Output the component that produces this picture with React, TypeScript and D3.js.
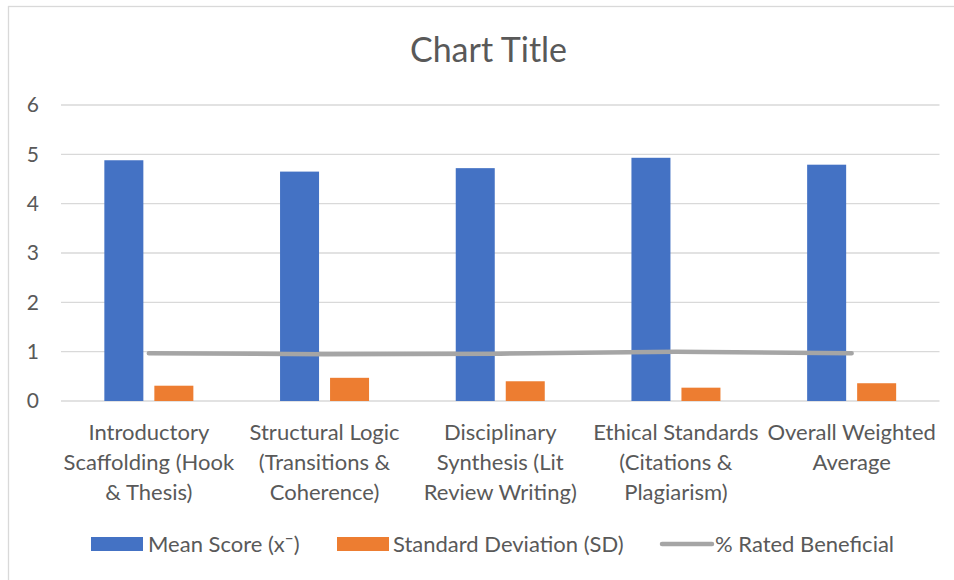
import React from "react";
import * as d3 from "d3";

// ---- data ----
const categories = [
  "Introductory Scaffolding (Hook & Thesis)",
  "Structural Logic (Transitions & Coherence)",
  "Disciplinary Synthesis (Lit Review Writing)",
  "Ethical Standards (Citations & Plagiarism)",
  "Overall Weighted Average",
];
const categoryLines = [
  ["Introductory", "Scaffolding (Hook", "& Thesis)"],
  ["Structural Logic", "(Transitions &", "Coherence)"],
  ["Disciplinary", "Synthesis (Lit", "Review Writing)"],
  ["Ethical Standards", "(Citations &", "Plagiarism)"],
  ["Overall Weighted", "Average"],
];
const meanScore = [4.88, 4.65, 4.72, 4.93, 4.79];
const stdDev = [0.31, 0.47, 0.4, 0.27, 0.36];
const ratedBeneficial = [0.97, 0.95, 0.96, 1.0, 0.97];
const yTicks = [0, 1, 2, 3, 4, 5, 6];
const seriesNames = ["Mean Score (x\u00AF)", "Standard Deviation (SD)", "% Rated Beneficial"];
const title = "Chart Title";

// ---- style ----
const FONT = "Lato, 'Liberation Sans', Arial, sans-serif";
const TEXT = "#595959";
const GRID = "#D9D9D9";
const BLUE = "#4472C4";
const ORANGE = "#ED7D31";
const GRAY = "#A5A5A5";

export default function App() {
  const W = 954;
  const H = 580;
  const plotLeft = 61;
  const plotRight = 939.5;
  const y = d3.scaleLinear().domain([0, 6]).range([401, 105]);
  const x0 = d3.scaleBand<string>().domain(categories).range([plotLeft, plotRight]);
  const bw = x0.bandwidth();
  const barW = bw * 0.222;
  const gap = bw * 0.0626;
  const center = (c: string) => (x0(c) as number) + bw / 2;

  const linePath = d3
    .line<number>()
    .x((_, i) => center(categories[i]))
    .y((d) => y(d))(ratedBeneficial) as string;

  const legendLayout = [
    { sx: 91, tx: 148 },
    { sx: 337, tx: 393 },
    { sx: 660, tx: 715 },
  ];
  const legendKinds = ["bar", "bar", "line"];
  const legendColors = [BLUE, ORANGE, GRAY];

  return (
    <svg
      width={W}
      height={H}
      style={{ position: "absolute", left: 0, top: 0, background: "#fff" }}
      fontFamily={FONT}
    >
      <rect x={0} y={0} width={W} height={H} fill="#fff" />
      <rect x={8.5} y={6.5} width={980} height={620} fill="none" stroke={GRID} strokeWidth={1.3} />
      <text x={488.5} y={62} textAnchor="middle" fontSize={34} fill={TEXT}>
        {title}
      </text>
      {yTicks.map((t) => (
        <g key={t}>
          <line x1={plotLeft} x2={plotRight} y1={y(t)} y2={y(t)} stroke={GRID} strokeWidth={1.3} />
          <text x={39} y={y(t)} dy="0.35em" textAnchor="end" fontSize={21} fill={TEXT}>
            {t}
          </text>
        </g>
      ))}
      {categories.map((c, i) => (
        <g key={c}>
          <rect
            x={center(c) - gap / 2 - barW}
            y={y(meanScore[i])}
            width={barW}
            height={y(0) - y(meanScore[i])}
            fill={BLUE}
          />
          <rect
            x={center(c) + gap / 2}
            y={y(stdDev[i])}
            width={barW}
            height={y(0) - y(stdDev[i])}
            fill={ORANGE}
          />
          {categoryLines[i].map((ln, j) => (
            <text key={j} x={center(c)} y={440 + j * 30} textAnchor="middle" fontSize={22} fill={TEXT}>
              {ln}
            </text>
          ))}
        </g>
      ))}
      <path d={linePath} fill="none" stroke={GRAY} strokeWidth={4.5} strokeLinecap="round" strokeLinejoin="round" />
      {seriesNames.map((name, i) => (
        <g key={name}>
          {legendKinds[i] === "bar" ? (
            <rect x={legendLayout[i].sx} y={537} width={52} height={14} fill={legendColors[i]} />
          ) : (
            <line
              x1={legendLayout[i].sx + 2}
              x2={legendLayout[i].sx + 52}
              y1={544}
              y2={544}
              stroke={legendColors[i]}
              strokeWidth={4.5}
              strokeLinecap="round"
            />
          )}
          <text x={legendLayout[i].tx} y={544} dy="0.35em" fontSize={22} fill={TEXT}>
            {name}
          </text>
        </g>
      ))}
    </svg>
  );
}
